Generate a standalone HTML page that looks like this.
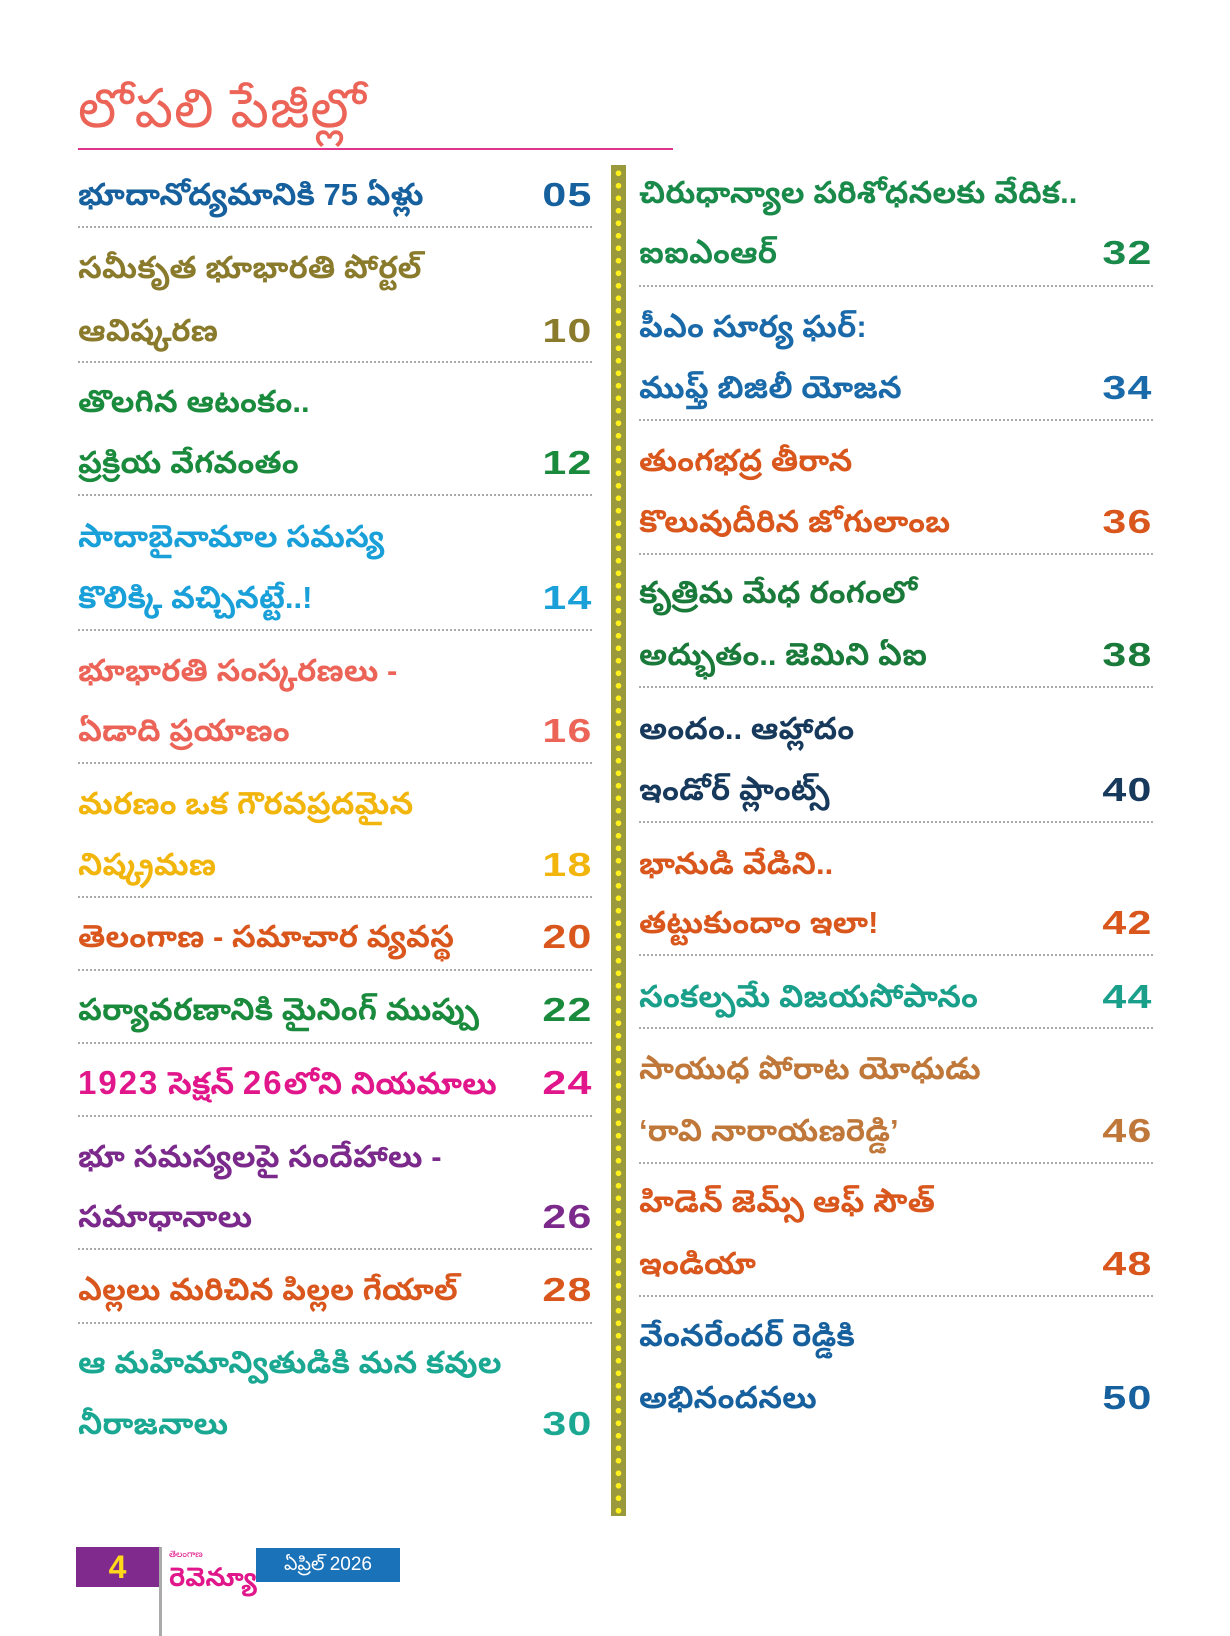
<!DOCTYPE html>
<html><head><meta charset="utf-8">
<style>
body{margin:0;background:#fff;}
#p{position:relative;width:1230px;height:1636px;overflow:hidden;background:#fff;font-family:"Liberation Sans","Noto Sans Telugu","Noto Sans CJK SC",sans-serif;}
.t{position:absolute;height:40px;line-height:40px;font-size:31px;white-space:nowrap;font-weight:bold;}
.n{position:absolute;height:40px;line-height:40px;font-size:33px;font-weight:bold;white-space:nowrap;text-align:right;transform:scaleX(1.3);transform-origin:right center;letter-spacing:1px;}
.L{left:78px}.R{left:639px}
.nL{right:637px}.nR{right:77px}
.d{position:absolute;height:0;border-top:2px dotted #aaa;}
.dL{left:78px;width:514px}.dR{left:639px;width:514px}
</style></head><body><div id="p">
<div style="position:absolute;left:78px;top:80px;font-size:54px;line-height:58px;color:#ec6457;white-space:nowrap;letter-spacing:1px">లోపలి పేజీల్లో</div>
<div style="position:absolute;left:78px;top:148px;width:595px;height:2px;background:#e0348c"></div>

<div style="position:absolute;left:611px;top:165px;width:15px;height:1351px;background:#9a9a3c;background-image:radial-gradient(circle,#ffef1a 2.6px,transparent 3px);background-size:15px 12.5px;background-position:0 2px;"></div>

<!-- left -->
<div class="t L" style="top:175px;color:#17609e">భూదానోద్యమానికి 75 ఏళ్లు</div><div class="n nL" style="top:175px;color:#17609e">05</div><div class="d dL" style="top:226px"></div>
<div class="t L" style="top:248px;color:#8a7a2c">సమీకృత భూభారతి పోర్టల్</div>
<div class="t L" style="top:311px;color:#8a7a2c">ఆవిష్కరణ</div><div class="n nL" style="top:311px;color:#8a7a2c">10</div><div class="d dL" style="top:361px"></div>
<div class="t L" style="top:382px;color:#1a8a3c">తొలగిన ఆటంకం..</div>
<div class="t L" style="top:443px;color:#1a8a3c">ప్రక్రియ వేగవంతం</div><div class="n nL" style="top:443px;color:#1a8a3c">12</div><div class="d dL" style="top:494px"></div>
<div class="t L" style="top:517px;color:#1aa0d8">సాదాబైనామాల సమస్య</div>
<div class="t L" style="top:578px;color:#1aa0d8">కొలిక్కి వచ్చినట్టే..!</div><div class="n nL" style="top:578px;color:#1aa0d8">14</div><div class="d dL" style="top:629px"></div>
<div class="t L" style="top:651px;color:#ec6457">భూభారతి సంస్కరణలు -</div>
<div class="t L" style="top:711px;color:#ec6457">ఏడాది ప్రయాణం</div><div class="n nL" style="top:711px;color:#ec6457">16</div><div class="d dL" style="top:762px"></div>
<div class="t L" style="top:784px;color:#f2b50c">మరణం ఒక గౌరవప్రదమైన</div>
<div class="t L" style="top:845px;color:#f2b50c">నిష్క్రమణ</div><div class="n nL" style="top:845px;color:#f2b50c">18</div><div class="d dL" style="top:896px"></div>
<div class="t L" style="top:917px;color:#d9561c">తెలంగాణ - సమాచార వ్యవస్థ</div><div class="n nL" style="top:917px;color:#d9561c">20</div><div class="d dL" style="top:969px"></div>
<div class="t L" style="top:990px;color:#1a8a3c">పర్యావరణానికి మైనింగ్ ముప్పు</div><div class="n nL" style="top:990px;color:#1a8a3c">22</div><div class="d dL" style="top:1042px"></div>
<div class="t L" style="top:1063px;color:#e0168a"><span style="letter-spacing:2px;font-size:33px">1923</span> సెక్షన్ <span style="letter-spacing:2px;font-size:33px">26</span>లోని నియమాలు</div><div class="n nL" style="top:1063px;color:#e0168a">24</div><div class="d dL" style="top:1115px"></div>
<div class="t L" style="top:1137px;color:#7b2a8c">భూ సమస్యలపై సందేహాలు -</div>
<div class="t L" style="top:1197px;color:#7b2a8c">సమాధానాలు</div><div class="n nL" style="top:1197px;color:#7b2a8c">26</div><div class="d dL" style="top:1248px"></div>
<div class="t L" style="top:1270px;color:#d9561c">ఎల్లలు మరిచిన పిల్లల గేయాల్</div><div class="n nL" style="top:1270px;color:#d9561c">28</div><div class="d dL" style="top:1322px"></div>
<div class="t L" style="top:1343px;color:#1aa892">ఆ మహిమాన్వితుడికి మన కవుల</div>
<div class="t L" style="top:1404px;color:#1aa892">నీరాజనాలు</div><div class="n nL" style="top:1404px;color:#1aa892">30</div>

<!-- right -->
<div class="t R" style="top:173px;color:#1a8a4a">చిరుధాన్యాల పరిశోధనలకు వేదిక..</div>
<div class="t R" style="top:233px;color:#1a8a4a">ఐఐఎంఆర్</div><div class="n nR" style="top:233px;color:#1a8a4a">32</div><div class="d dR" style="top:285px"></div>
<div class="t R" style="top:307px;color:#1a6aaa">పీఎం సూర్య ఘర్:</div>
<div class="t R" style="top:368px;color:#1a6aaa">ముఫ్త్ బిజిలీ యోజన</div><div class="n nR" style="top:368px;color:#1a6aaa">34</div><div class="d dR" style="top:419px"></div>
<div class="t R" style="top:441px;color:#d9561c">తుంగభద్ర తీరాన</div>
<div class="t R" style="top:502px;color:#d9561c">కొలువుదీరిన జోగులాంబ</div><div class="n nR" style="top:502px;color:#d9561c">36</div><div class="d dR" style="top:553px"></div>
<div class="t R" style="top:573px;color:#1a7a3a">కృత్రిమ మేధ రంగంలో</div>
<div class="t R" style="top:635px;color:#1a7a3a">అద్భుతం.. జెమిని ఏఐ</div><div class="n nR" style="top:635px;color:#1a7a3a">38</div><div class="d dR" style="top:686px"></div>
<div class="t R" style="top:709px;color:#173a5c">అందం.. ఆహ్లాదం</div>
<div class="t R" style="top:770px;color:#173a5c">ఇండోర్ ప్లాంట్స్</div><div class="n nR" style="top:770px;color:#173a5c">40</div><div class="d dR" style="top:821px"></div>
<div class="t R" style="top:844px;color:#d9561c">భానుడి వేడిని..</div>
<div class="t R" style="top:903px;color:#d9561c">తట్టుకుందాం ఇలా!</div><div class="n nR" style="top:903px;color:#d9561c">42</div><div class="d dR" style="top:954px"></div>
<div class="t R" style="top:977px;color:#1aa08a">సంకల్పమే విజయసోపానం</div><div class="n nR" style="top:977px;color:#1aa08a">44</div><div class="d dR" style="top:1027px"></div>
<div class="t R" style="top:1049px;color:#c0783a">సాయుధ పోరాట యోధుడు</div>
<div class="t R" style="top:1111px;color:#c0783a">‘రావి నారాయణరెడ్డి’</div><div class="n nR" style="top:1111px;color:#c0783a">46</div><div class="d dR" style="top:1162px"></div>
<div class="t R" style="top:1182px;color:#d9561c">హిడెన్ జెమ్స్ ఆఫ్ సౌత్</div>
<div class="t R" style="top:1244px;color:#d9561c">ఇండియా</div><div class="n nR" style="top:1244px;color:#d9561c">48</div><div class="d dR" style="top:1295px"></div>
<div class="t R" style="top:1316px;color:#17609e">వేంనరేందర్ రెడ్డికి</div>
<div class="t R" style="top:1378px;color:#17609e">అభినందనలు</div><div class="n nR" style="top:1378px;color:#17609e">50</div>

<!-- footer -->
<div style="position:absolute;left:76px;top:1547px;width:83px;height:40px;background:#7f2a8c;color:#ffd81a;font-weight:bold;font-size:32px;line-height:40px;text-align:center;">4</div>
<div style="position:absolute;left:159px;top:1547px;width:3px;height:89px;background:#aaa"></div>
<div style="position:absolute;left:169px;top:1549px;font-size:9px;line-height:11px;color:#e0168a;white-space:nowrap">తెలంగాణ</div>
<div style="position:absolute;left:169px;top:1562px;font-size:26px;line-height:30px;color:#e0168a;font-weight:bold;white-space:nowrap">రెవెన్యూ</div>
<div style="position:absolute;left:256px;top:1548px;width:144px;height:34px;background:#1a72b8;color:#fff;font-size:19px;line-height:34px;text-align:center;white-space:nowrap">ఏప్రిల్ 2026</div>
</div></body></html>
